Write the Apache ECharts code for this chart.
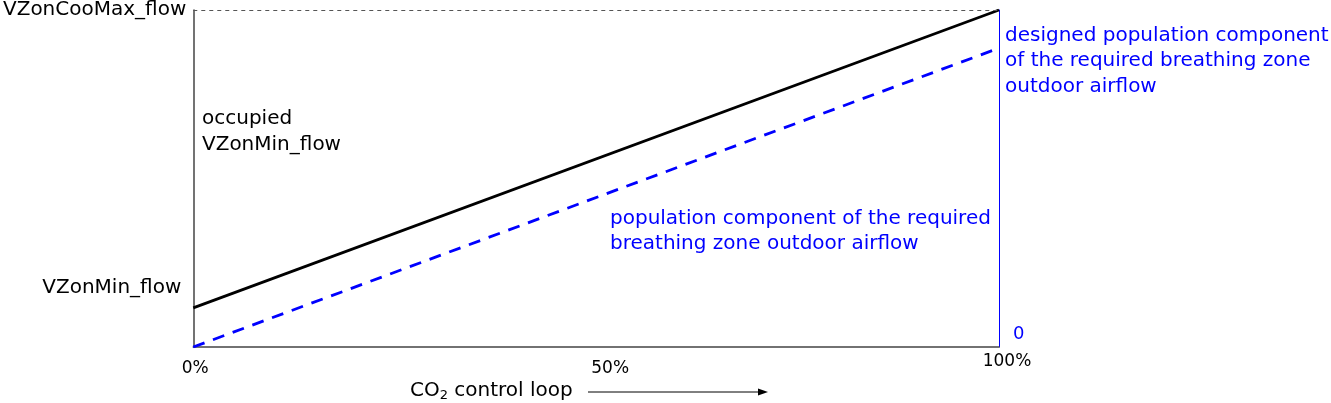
<!DOCTYPE html>
<html>
    <head>
        <meta charset="utf-8">
        <script src="https://cdn.jsdelivr.net/npm/echarts@6/dist/echarts.min.js"></script>
        <style>
            html, body {
                margin: 0;
                padding: 0;
                background: #fff;
            }
            #main {
                width: 1331px;
                height: 403px;
            }
        </style>
    </head>
    <body>
        <div id="main"></div>
        <script>

            // control loop signal (%) at the two ends of the lines
            var loopSignal = [0, 100];
            // zone outdoor airflow setpoint, scaled so VZonCooMax_flow = 100
            var zoneFlow = [11.6, 100];
            // population component, 0 at 0% loop signal
            var popFlow = [0, 88.7];

            // tick labels (rich style key + text)
            var xTickLabels = {0: '{a|0%}', 50: '{m|50%}', 100: '{h|100%}'};
            var yTickLabels = {17.5: '{b|VZonMin_flow}', 100: '{t|VZonCooMax_flow}'};
            var rightTickLabels = {0: '0'};

            var font = 'DejaVu Sans';
            var blue = '#0000ff';

            var chart = echarts.init(document.getElementById('main'));

            function pairs(xs, ys) {
                var out = [];
                for (var i = 0; i < xs.length; i++) {
                    out.push([xs[i], ys[i]]);
                }
                return out;
            }

            var option = {
                animation: false,
                textStyle: {fontFamily: font},
                grid: {
                    left: 192,
                    right: 332,
                    top: 10,
                    bottom: 56
                },
                xAxis: {
                    type: 'value',
                    min: 0,
                    max: 100,
                    interval: 50,
                    axisLine: {lineStyle: {color: '#444', width: 1.5}},
                    axisTick: {show: false},
                    splitLine: {show: false},
                    axisLabel: {
                        color: '#000',
                        fontSize: 17,
                        fontFamily: font,
                        margin: 6,
                        formatter: function (v) {
                            return xTickLabels[v] || '';
                        },
                        rich: {
                            a: {fontSize: 17, fontFamily: font, color: '#000', padding: [7, 0, 0, 4]},
                            m: {fontSize: 17, fontFamily: font, color: '#000', padding: [7, 0, 0, 28]},
                            h: {fontSize: 17, fontFamily: font, color: '#000', padding: [0, 0, 0, 16]}
                        }
                    }
                },
                yAxis: [
                    {
                        type: 'value',
                        min: 0,
                        max: 100,
                        interval: 2.5,
                        axisLine: {show: true, lineStyle: {color: '#444', width: 1.5}},
                        axisTick: {show: false},
                        splitLine: {show: false},
                        axisLabel: {
                            color: '#000',
                            fontSize: 20,
                            fontFamily: font,
                            margin: 7,
                            showMaxLabel: true,
                            formatter: function (v) {
                                return yTickLabels[v] || '';
                            },
                            rich: {
                                t: {fontSize: 20, fontFamily: font, color: '#000', padding: [0, 0, 0, 0]},
                                b: {fontSize: 20, fontFamily: font, color: '#000', padding: [0, 5, 0, 0]}
                            }
                        }
                    },
                    {
                        type: 'value',
                        position: 'right',
                        min: 0,
                        max: 100,
                        interval: 50,
                        axisLine: {show: true, lineStyle: {color: blue, width: 1}},
                        axisTick: {show: false},
                        splitLine: {show: false},
                        axisLabel: {
                            color: blue,
                            fontSize: 18,
                            fontFamily: font,
                            margin: 14,
                            verticalAlign: 'bottom',
                            padding: [0, 0, 4, 0],
                            formatter: function (v) {
                                return rightTickLabels[v] || '';
                            }
                        }
                    }
                ],
                series: [
                    {
                        type: 'line',
                        data: pairs(loopSignal, zoneFlow),
                        symbol: 'none',
                        lineStyle: {color: '#000', width: 2.8},
                        markLine: {
                            silent: true,
                            symbol: 'none',
                            label: {show: false},
                            lineStyle: {color: '#555', type: [4, 4], width: 1},
                            data: [{yAxis: 100}]
                        }
                    },
                    {
                        type: 'line',
                        data: pairs(loopSignal, popFlow),
                        symbol: 'none',
                        lineStyle: {color: blue, width: 2.8, type: [12, 9]}
                    }
                ],
                graphic: [
                    {
                        type: 'text',
                        left: 202,
                        top: 106,
                        style: {
                            text: 'occupied\nVZonMin_flow',
                            font: '20px "DejaVu Sans"',
                            fill: '#000',
                            lineHeight: 26
                        }
                    },
                    {
                        type: 'text',
                        left: 610,
                        top: 206,
                        style: {
                            text: 'population component of the required\nbreathing zone outdoor airflow',
                            font: '20px "DejaVu Sans"',
                            fill: blue,
                            lineHeight: 25
                        }
                    },
                    {
                        type: 'text',
                        left: 1005,
                        top: 23,
                        style: {
                            text: 'designed population component\nof the required breathing zone\noutdoor airflow',
                            font: '20px "DejaVu Sans"',
                            fill: blue,
                            lineHeight: 25.5
                        }
                    },
                    {
                        type: 'text',
                        left: 410,
                        top: 381,
                        style: {
                            text: 'CO{sub|2} control loop',
                            font: '20px "DejaVu Sans"',
                            fill: '#000',
                            rich: {
                                sub: {
                                    fontSize: 13,
                                    fontFamily: font,
                                    verticalAlign: 'bottom',
                                    padding: [9, 0, 0, 0]
                                }
                            }
                        }
                    },
                    {
                        type: 'line',
                        shape: {x1: 588, y1: 392, x2: 762, y2: 392},
                        style: {stroke: '#000', lineWidth: 1}
                    },
                    {
                        type: 'polygon',
                        shape: {points: [[768, 392], [758, 388.5], [758, 395.5]]},
                        style: {fill: '#000'}
                    }
                ]
            };

            chart.setOption(option);

        </script>
    </body>
</html>
